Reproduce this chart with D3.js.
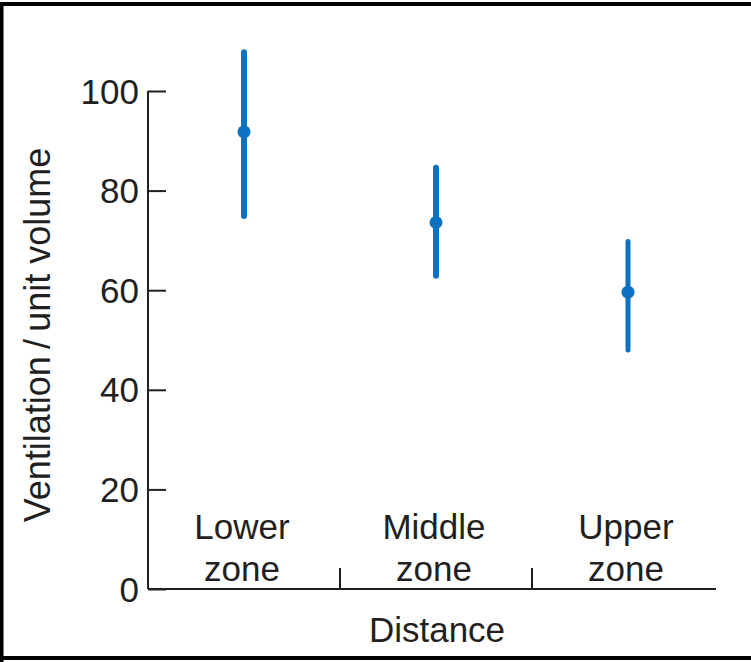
<!DOCTYPE html>
<html>
<head>
<meta charset="utf-8">
<script src="https://cdn.jsdelivr.net/npm/d3@7"></script>
<style>
  html, body { margin: 0; padding: 0; background: #fff; }
  svg { display: block; font-family: "Liberation Sans", Arial, sans-serif; }
</style>
</head>
<body>
<div id="chart"></div>
<script>
const width = 751;
const height = 662;
const blue = '#0a72c0';
const ink = '#231f20';

const zones = [['Lower', 'zone'], ['Middle', 'zone'], ['Upper', 'zone']];
const zoneKeys = ['lower', 'middle', 'upper'];
const means = [91.8, 73.6, 59.6];
const lows = [74.9, 62.9, 48.0];
const highs = [107.8, 84.6, 69.8];
const yTicks = [0, 20, 40, 60, 80, 100];

const svg = d3.select('#chart').append('svg')
  .attr('width', width)
  .attr('height', height);

// frame (top, left, bottom)
svg.append('path')
  .attr('d', `M1.5,${height} V4 H${width} M0,658 H${width}`)
  .attr('fill', 'none')
  .attr('stroke', '#000')
  .attr('stroke-width', 4);

const y = d3.scaleLinear().domain([0, 100]).range([589, 91]);
const x = d3.scaleBand().domain(zoneKeys).range([148, 724]);

// y axis
const yAxis = svg.append('g')
  .attr('transform', 'translate(148,0)')
  .call(d3.axisRight(y).tickValues(yTicks).tickSize(18).tickFormat(''));
yAxis.select('.domain').remove();
yAxis.selectAll('line').attr('stroke', ink).attr('stroke-width', 2);

svg.append('line')
  .attr('x1', 148).attr('x2', 148)
  .attr('y1', y(100)).attr('y2', y(0))
  .attr('stroke', ink).attr('stroke-width', 2);

svg.selectAll('.ylab')
  .data(yTicks)
  .enter()
  .append('text')
  .attr('class', 'ylab')
  .attr('x', 139)
  .attr('y', d => y(d) + 12.5)
  .attr('text-anchor', 'end')
  .attr('fill', ink)
  .style('font-size', '35px')
  .text(d => d);

// x axis
svg.append('line')
  .attr('x1', 148).attr('x2', 716)
  .attr('y1', y(0)).attr('y2', y(0))
  .attr('stroke', ink).attr('stroke-width', 2);

svg.selectAll('.xtick')
  .data(zoneKeys.slice(1))
  .enter()
  .append('line')
  .attr('class', 'xtick')
  .attr('x1', d => x(d)).attr('x2', d => x(d))
  .attr('y1', y(0)).attr('y2', y(0) - 21)
  .attr('stroke', ink).attr('stroke-width', 2);

const labels = svg.selectAll('.xlab')
  .data(zoneKeys)
  .enter()
  .append('text')
  .attr('class', 'xlab')
  .attr('text-anchor', 'middle')
  .attr('fill', ink)
  .style('font-size', '35px');

labels.selectAll('tspan')
  .data((d, i) => zones[i].map(t => ({ key: d, t })))
  .enter()
  .append('tspan')
  .attr('x', d => x(d.key) + x.bandwidth() / 2 - 2)
  .attr('y', (d, i) => 539 + i * 42)
  .text(d => d.t);

// error bars
svg.selectAll('.bar')
  .data(zoneKeys)
  .enter()
  .append('line')
  .attr('class', 'bar')
  .attr('x1', d => x(d) + x.bandwidth() / 2)
  .attr('x2', d => x(d) + x.bandwidth() / 2)
  .attr('y1', (d, i) => y(highs[i]))
  .attr('y2', (d, i) => y(lows[i]))
  .attr('stroke', blue)
  .attr('stroke-width', (d, i) => i === 2 ? 5 : 6)
  .attr('stroke-linecap', 'round');

svg.selectAll('.dot')
  .data(zoneKeys)
  .enter()
  .append('circle')
  .attr('class', 'dot')
  .attr('cx', d => x(d) + x.bandwidth() / 2)
  .attr('cy', (d, i) => y(means[i]))
  .attr('r', 6.5)
  .attr('fill', blue);

// axis titles
svg.append('text')
  .attr('x', 437)
  .attr('y', 642)
  .attr('text-anchor', 'middle')
  .attr('fill', ink)
  .style('font-size', '35px')
  .text('Distance');

svg.append('text')
  .attr('transform', 'translate(50,335) rotate(-90)')
  .attr('text-anchor', 'middle')
  .attr('fill', ink)
  .style('font-size', '36px')
  .text('Ventilation\u2009/\u2009unit volume');
</script>
</body>
</html>
